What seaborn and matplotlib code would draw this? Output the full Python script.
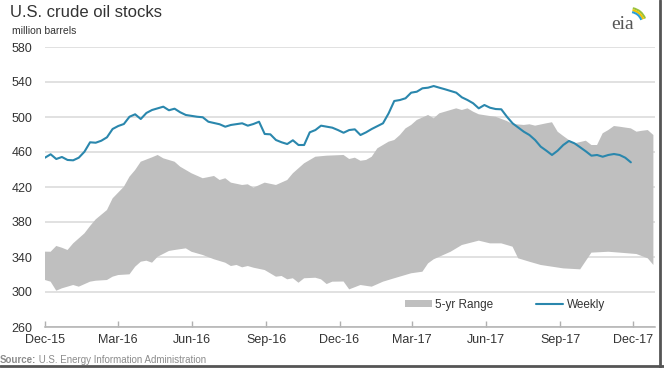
import numpy as np
import pandas as pd
import seaborn as sns
import matplotlib.pyplot as plt
import matplotlib.dates as mdates
from matplotlib.patches import Arc
from matplotlib.lines import Line2D

# weeks counted from 1 Dec 2015
START = "2015-12-01"

weekly_week = [0, 1, 2, 3, 4, 5, 6, 7, 8, 9, 10, 11, 12, 13, 14, 15, 16, 17, 18, 19,
               21, 22, 23, 24, 25, 27, 28, 29, 31, 32, 33, 35, 36, 37, 38, 39, 40, 41,
               42, 43, 44, 45, 46, 47, 48, 49, 51, 52, 53, 54, 55, 56, 57, 58, 60, 61,
               62, 63, 64, 65, 66, 67, 68, 69, 70, 71, 73, 74, 75, 76, 77, 78, 79, 80,
               81, 82, 83, 85, 86, 87, 88, 89, 90, 91, 92, 93, 94, 95, 96, 97, 98, 99,
               100, 101, 102, 103, 104]
weekly_stocks = [453.5, 457.4, 452.0, 454.3, 450.9, 450.5, 453.5, 460.3, 471.1, 470.6,
                 472.9, 476.8, 486.3, 489.7, 492.0, 500.3, 503.1, 497.7, 504.6, 508.0,
                 511.8, 507.7, 509.5, 505.4, 502.3, 500.3, 499.7, 494.6, 491.7, 488.9,
                 490.9, 492.8, 490.1, 492.0, 494.6, 480.6, 480.2, 473.7, 471.1, 469.1,
                 473.4, 468.0, 468.0, 482.5, 485.1, 490.1, 487.8, 485.1, 482.0, 485.1,
                 485.9, 479.4, 482.5, 486.3, 492.8, 504.2, 518.3, 519.4, 521.4, 527.8,
                 528.9, 532.8, 533.5, 535.4, 533.5, 531.7, 527.8, 522.5, 519.4, 515.7,
                 509.9, 513.7, 510.6, 509.1, 508.8, 500.3, 492.8, 483.2, 479.4, 473.7,
                 466.1, 461.5, 456.6, 461.5, 468.0, 472.6, 469.9, 465.4, 460.8, 455.8,
                 456.6, 454.6, 456.6, 457.7, 456.6, 453.5, 448.2]

range_hi_week = [0, 1, 2, 3, 4, 5, 7, 8, 9, 11, 12, 14, 15, 16, 17, 19, 20, 21, 23, 24,
                 26, 28, 30, 31, 32, 33, 35, 36, 37, 39, 41, 43, 44, 46, 48, 50, 53, 54,
                 55, 56, 57, 58, 59, 61, 62, 63, 64, 65, 66, 68, 69, 70, 71, 73, 74, 75,
                 76, 77, 79, 80, 82, 83, 85, 86, 87, 89, 90, 91, 92, 93, 94, 96, 97, 98,
                 99, 100, 101, 102, 104, 105, 106, 107, 108]
range_hi = [346.1, 346.0, 352.6, 350.6, 348.0, 355.6, 367.0, 375.4, 383.0, 393.7, 407.0,
            420.3, 431.8, 439.4, 448.9, 453.9, 456.6, 452.8, 448.9, 443.2, 435.7, 430.0,
            432.6, 428.0, 430.0, 425.0, 422.3, 423.1, 419.2, 425.0, 422.3, 428.0, 435.7,
            447.1, 454.6, 455.8, 456.6, 452.0, 453.5, 450.0, 450.9, 454.6, 464.2, 471.8,
            473.7, 479.4, 487.0, 490.9, 496.6, 502.3, 498.5, 504.2, 506.1, 509.9, 508.0,
            509.9, 506.1, 503.1, 501.1, 500.3, 495.4, 492.0, 490.9, 491.7, 490.1, 492.8,
            494.0, 483.2, 478.3, 473.7, 469.9, 472.9, 468.0, 468.0, 481.4, 485.1, 489.7,
            488.9, 487.0, 483.2, 484.3, 485.1, 479.4]

range_lo_week = [0, 1, 2, 3, 5, 6, 8, 9, 11, 12, 13, 15, 16, 17, 18, 19, 20, 22, 23, 25,
                 26, 28, 30, 32, 33, 34, 35, 36, 37, 39, 41, 42, 43, 44, 45, 46, 48, 49,
                 50, 51, 53, 54, 56, 58, 60, 62, 65, 67, 68, 69, 72, 74, 77, 79, 81, 83,
                 84, 86, 88, 92, 95, 97, 100, 102, 105, 107, 108]
range_lo = [313.7, 311.8, 301.5, 304.2, 308.0, 306.1, 311.8, 312.9, 313.7, 317.5, 319.4,
            320.2, 328.9, 334.6, 335.8, 333.5, 340.3, 346.9, 348.0, 349.9, 346.0, 342.3,
            337.4, 333.5, 329.7, 330.9, 328.2, 329.7, 327.8, 325.1, 317.5, 318.3, 314.5,
            315.7, 310.6, 315.7, 316.3, 314.5, 309.1, 311.8, 312.0, 303.0, 308.0, 306.1,
            311.8, 315.7, 321.4, 323.2, 332.7, 337.4, 346.0, 353.7, 358.7, 355.6, 355.6,
            351.8, 338.5, 334.6, 330.9, 327.0, 325.9, 345.0, 346.0, 345.0, 343.4, 338.5,
            330.9]

y_ticks = [260, 300, 340, 380, 420, 460, 500, 540, 580]


def to_dates(weeks):
    return pd.to_datetime(START) + pd.to_timedelta(np.array(weeks) * 7, unit="D")


weekly = pd.DataFrame({"date": to_dates(weekly_week), "stocks": weekly_stocks})
hi_dates = to_dates(range_hi_week)
lo_dates = to_dates(range_lo_week)

sns.set_theme(style="white")
plt.rcParams["font.family"] = ["Liberation Sans", "DejaVu Sans"]

fig = plt.figure(figsize=(6.64, 3.68), dpi=100)
ax = fig.add_axes([45 / 664, 41 / 368, 610 / 664, 280 / 368])

# 5-yr range band: upper edge forward, lower edge back
band_x = np.concatenate([mdates.date2num(hi_dates), mdates.date2num(lo_dates)[::-1]])
band_y = np.concatenate([range_hi, range_lo[::-1]])
ax.fill(band_x, band_y, color="#bfbfbf", lw=0, label="5-yr Range", zorder=2)

sns.lineplot(data=weekly, x="date", y="stocks", ax=ax, color="#2a87ad",
             lw=1.5, label="Weekly", zorder=3)

ax.set_ylim(260, 580)
ax.set_yticks(y_ticks)
ax.set_xlim(pd.Timestamp("2015-12-01"), pd.Timestamp("2017-12-28"))
ax.set_xticks(pd.date_range("2015-12-01", "2017-12-01", freq="3MS"))
ax.xaxis.set_major_formatter(mdates.DateFormatter("%b-%y"))
ax.set_xlabel("")
ax.set_ylabel("")

ax.grid(axis="y", color="#d9d9d9", lw=1.1, zorder=0)
ax.set_axisbelow(True)
for s in ["top", "right", "left"]:
    ax.spines[s].set_visible(False)
ax.spines["bottom"].set_color("#b0b0b0")
ax.spines["bottom"].set_linewidth(1.1)
ax.tick_params(axis="y", length=0, pad=9, labelsize=9, labelcolor="#333333")
ax.tick_params(axis="x", direction="in", length=4, color="#b0b0b0", width=1,
               pad=5, labelsize=9, labelcolor="#333333", bottom=True)

leg = ax.legend(loc="center left", bbox_to_anchor=(0.582, 0.079), ncol=2,
                frameon=False, fontsize=8.5, handlelength=2.3, handleheight=0.5,
                handletextpad=0.3, columnspacing=3.6, borderaxespad=0)
for t in leg.get_texts():
    t.set_color("#333333")

fig.text(10 / 664, 1 - 17 / 368, "U.S. crude oil stocks", fontsize=12,
         color="#333333", va="baseline")
fig.text(12 / 664, 1 - 34 / 368, "million barrels", fontsize=7.5,
         color="#333333", va="baseline")

# source line: bold label, then the rest placed right after it
src = fig.text(0, 1 - 365 / 368, "Source:", fontsize=7, color="#8c8c8c",
               fontweight="bold", va="bottom")
ax.annotate(" U.S. Energy Information Administration", xy=(1, 0), xycoords=src,
            va="bottom", ha="left", fontsize=7, color="#8c8c8c",
            annotation_clip=False)

# eia logo
fig.text(623 / 664, 1 - 29 / 368, "eia", fontsize=14, color="#555555",
         family="Liberation Serif", ha="center", va="baseline")
logo = fig.add_axes([612 / 664, 1 - 22 / 368, 40 / 664, 20 / 368])
logo.set_xlim(0, 40)
logo.set_ylim(0, 20)
logo.axis("off")
for r, c in [(16, "#9ac23c"), (14, "#f2c500"), (12, "#2a9fd6")]:
    logo.add_patch(Arc((18, -2), 2 * r, 2 * r, theta1=20, theta2=80, color=c, lw=1.5))

# screenshot frame
fig.add_artist(Line2D([660 / 664, 660 / 664], [0, 1], color="#555555", lw=2))
fig.add_artist(Line2D([0, 1], [2 / 368, 2 / 368], color="#555555", lw=2))

fig.savefig("out.png", dpi=100)
